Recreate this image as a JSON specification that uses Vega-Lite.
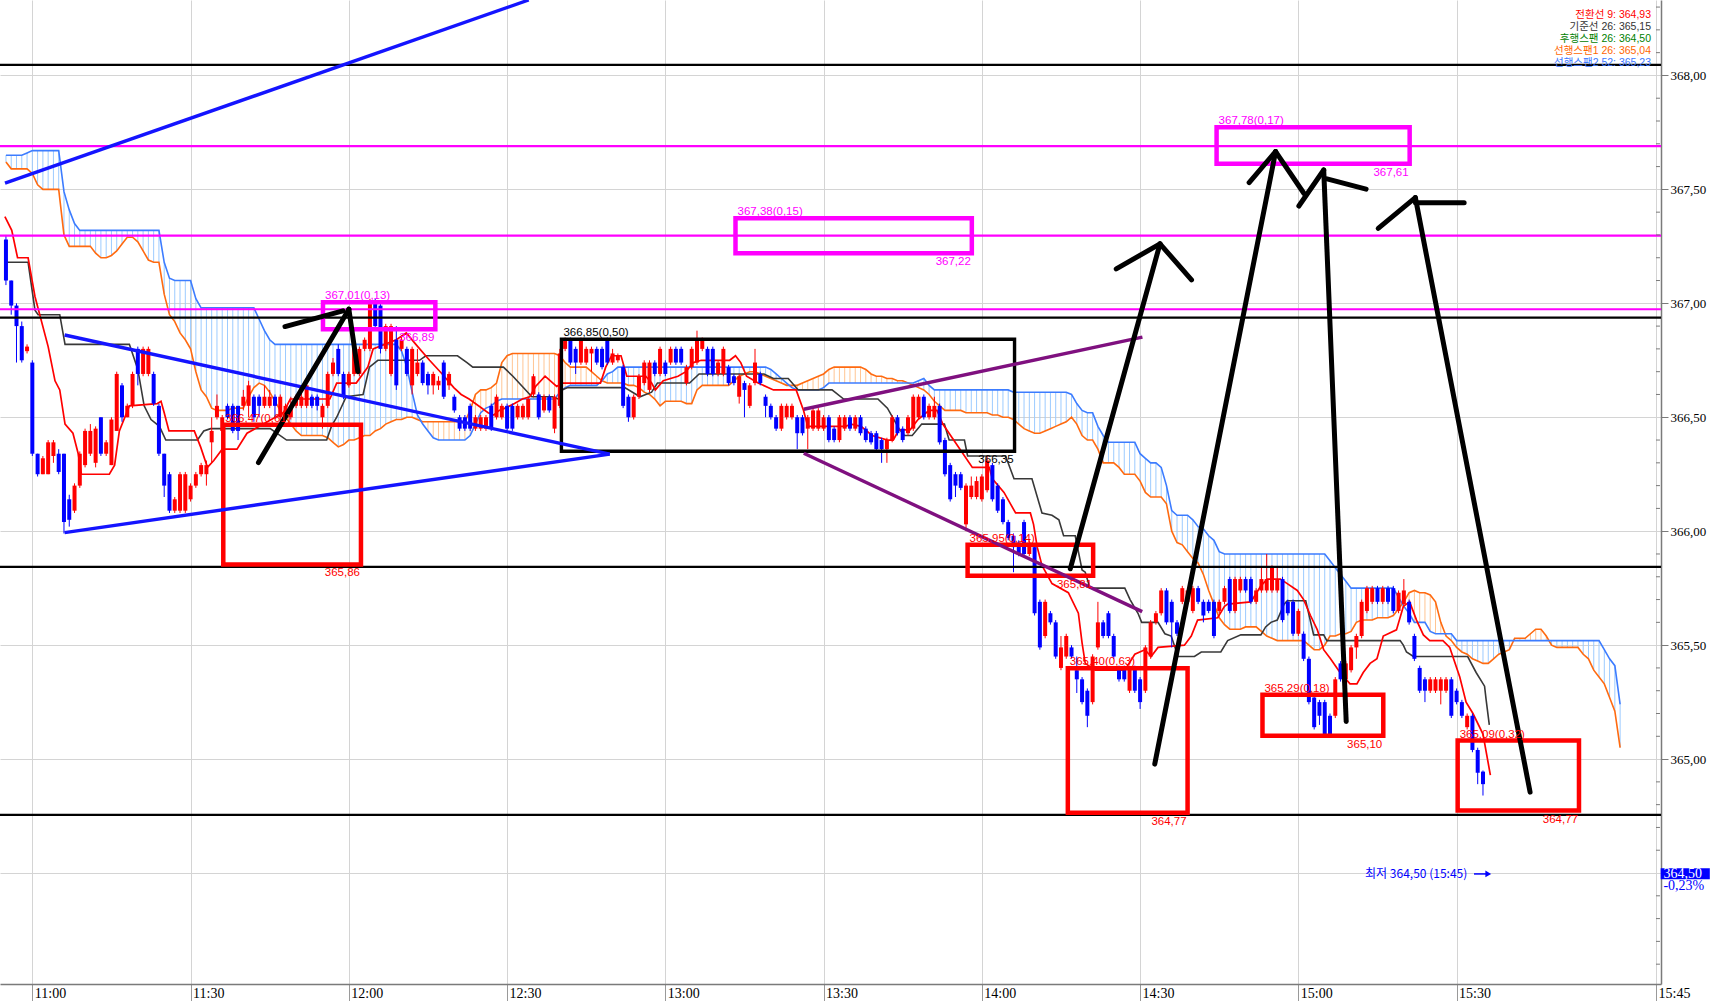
{
"$schema":"https://vega.github.io/schema/vega-lite/v6.json",
"width":1661,"height":984,
"autosize":{"type":"none"},
"padding":{"left":0,"top":0,"right":61,"bottom":17},
"background":"white",
"config":{"view":{"stroke":null}},
"resolve":{"scale":{"color":"independent","stroke":"independent"}},
"datasets":{
"candles":[
{"t":-5,"o":367.28,"h":367.3,"l":367.08,"c":367.1},{"t":-4,"o":367.1,"h":367.1,"l":366.95,"c":366.99},{"t":-3,"o":366.99,"h":367,"l":366.74,"c":366.9},{"t":-2,"o":366.9,"h":366.92,"l":366.74,"c":366.75},{"t":-1,"o":366.79,"h":366.82,"l":366.78,"c":366.81},
{"t":0,"o":366.74,"h":366.75,"l":366.33,"c":366.34},{"t":1,"o":366.34,"h":366.34,"l":366.24,"c":366.25},{"t":2,"o":366.25,"h":366.33,"l":366.25,"c":366.32},{"t":3,"o":366.25,"h":366.4,"l":366.25,"c":366.39},{"t":4,"o":366.33,"h":366.4,"l":366.3,"c":366.39},
{"t":5,"o":366.34,"h":366.36,"l":366.25,"c":366.26},{"t":6,"o":366.34,"h":366.34,"l":365.99,"c":366.04},{"t":7,"o":366.14,"h":366.16,"l":366.02,"c":366.05},{"t":8,"o":366.09,"h":366.21,"l":366.08,"c":366.2},{"t":9,"o":366.2,"h":366.35,"l":366.19,"c":366.34},
{"t":10,"o":366.29,"h":366.45,"l":366.28,"c":366.44},{"t":11,"o":366.34,"h":366.47,"l":366.33,"c":366.44},{"t":12,"o":366.3,"h":366.46,"l":366.28,"c":366.45},{"t":13,"o":366.5,"h":366.5,"l":366.33,"c":366.34},{"t":14,"o":366.34,"h":366.4,"l":366.33,"c":366.39},
{"t":15,"o":366.29,"h":366.5,"l":366.29,"c":366.49},{"t":16,"o":366.44,"h":366.7,"l":366.44,"c":366.69},{"t":17,"o":366.64,"h":366.65,"l":366.48,"c":366.5},{"t":18,"o":366.5,"h":366.56,"l":366.5,"c":366.55},{"t":19,"o":366.55,"h":366.7,"l":366.54,"c":366.69},
{"t":20,"o":366.8,"h":366.81,"l":366.64,"c":366.69},{"t":21,"o":366.69,"h":366.81,"l":366.68,"c":366.8},{"t":22,"o":366.69,"h":366.81,"l":366.68,"c":366.8},{"t":23,"o":366.69,"h":366.7,"l":366.55,"c":366.56},{"t":24,"o":366.55,"h":366.56,"l":366.33,"c":366.34},
{"t":25,"o":366.34,"h":366.34,"l":366.15,"c":366.2},{"t":26,"o":366.25,"h":366.26,"l":366.08,"c":366.09},{"t":27,"o":366.09,"h":366.15,"l":366.08,"c":366.14},{"t":28,"o":366.09,"h":366.26,"l":366.08,"c":366.25},{"t":29,"o":366.09,"h":366.26,"l":366.08,"c":366.25},
{"t":30,"o":366.14,"h":366.21,"l":366.13,"c":366.2},{"t":31,"o":366.2,"h":366.26,"l":366.19,"c":366.25},{"t":32,"o":366.25,"h":366.3,"l":366.24,"c":366.29},{"t":33,"o":366.25,"h":366.31,"l":366.2,"c":366.29},{"t":34,"o":366.39,"h":366.5,"l":366.3,"c":366.44},
{"t":35,"o":366.5,"h":366.6,"l":366.49,"c":366.55},{"t":36,"o":366.44,"h":366.51,"l":366.43,"c":366.5},{"t":37,"o":366.55,"h":366.56,"l":366.49,"c":366.5},{"t":38,"o":366.55,"h":366.56,"l":366.43,"c":366.44},{"t":39,"o":366.55,"h":366.55,"l":366.4,"c":366.44},
{"t":40,"o":366.55,"h":366.62,"l":366.53,"c":366.59},{"t":41,"o":366.55,"h":366.66,"l":366.5,"c":366.64},{"t":42,"o":366.59,"h":366.6,"l":366.48,"c":366.5},{"t":43,"o":366.59,"h":366.6,"l":366.5,"c":366.55},{"t":44,"o":366.55,"h":366.64,"l":366.54,"c":366.59},
{"t":45,"o":366.55,"h":366.62,"l":366.54,"c":366.59},{"t":46,"o":366.59,"h":366.6,"l":366.5,"c":366.55},{"t":47,"o":366.5,"h":366.6,"l":366.45,"c":366.59},{"t":48,"o":366.5,"h":366.56,"l":366.49,"c":366.55},{"t":49,"o":366.5,"h":366.59,"l":366.49,"c":366.55},
{"t":50,"o":366.55,"h":366.6,"l":366.54,"c":366.59},{"t":51,"o":366.55,"h":366.62,"l":366.54,"c":366.59},{"t":52,"o":366.55,"h":366.65,"l":366.54,"c":366.64},{"t":53,"o":366.59,"h":366.6,"l":366.54,"c":366.55},{"t":54,"o":366.59,"h":366.6,"l":366.53,"c":366.55},
{"t":55,"o":366.5,"h":366.56,"l":366.45,"c":366.55},{"t":56,"o":366.55,"h":366.7,"l":366.54,"c":366.69},{"t":57,"o":366.69,"h":366.76,"l":366.68,"c":366.74},{"t":58,"o":366.8,"h":366.82,"l":366.68,"c":366.69},{"t":59,"o":366.69,"h":366.7,"l":366.58,"c":366.59},
{"t":60,"o":366.64,"h":366.7,"l":366.63,"c":366.69},{"t":61,"o":366.69,"h":366.81,"l":366.68,"c":366.8},{"t":62,"o":366.69,"h":366.81,"l":366.68,"c":366.8},{"t":63,"o":366.8,"h":366.85,"l":366.79,"c":366.84},{"t":64,"o":366.8,"h":367.02,"l":366.79,"c":367.01},
{"t":65,"o":367.01,"h":367.02,"l":366.88,"c":366.9},{"t":66,"o":366.99,"h":367.01,"l":366.78,"c":366.8},{"t":67,"o":366.8,"h":366.91,"l":366.79,"c":366.9},{"t":68,"o":366.69,"h":366.91,"l":366.68,"c":366.9},{"t":69,"o":366.84,"h":366.9,"l":366.62,"c":366.64},
{"t":70,"o":366.8,"h":366.86,"l":366.79,"c":366.84},{"t":71,"o":366.8,"h":366.81,"l":366.68,"c":366.69},{"t":72,"o":366.64,"h":366.81,"l":366.6,"c":366.8},{"t":73,"o":366.69,"h":366.8,"l":366.68,"c":366.74},{"t":74,"o":366.74,"h":366.75,"l":366.64,"c":366.65},
{"t":75,"o":366.69,"h":366.7,"l":366.6,"c":366.64},{"t":76,"o":366.64,"h":366.7,"l":366.6,"c":366.69},{"t":77,"o":366.64,"h":366.68,"l":366.62,"c":366.66},{"t":78,"o":366.74,"h":366.75,"l":366.58,"c":366.59},{"t":79,"o":366.64,"h":366.7,"l":366.62,"c":366.69},
{"t":80,"o":366.59,"h":366.6,"l":366.52,"c":366.53},{"t":81,"o":366.5,"h":366.51,"l":366.44,"c":366.45},{"t":82,"o":366.5,"h":366.51,"l":366.44,"c":366.45},{"t":83,"o":366.55,"h":366.56,"l":366.44,"c":366.45},{"t":84,"o":366.45,"h":366.51,"l":366.44,"c":366.5},
{"t":85,"o":366.45,"h":366.51,"l":366.44,"c":366.5},{"t":86,"o":366.45,"h":366.51,"l":366.44,"c":366.5},{"t":87,"o":366.55,"h":366.56,"l":366.44,"c":366.45},{"t":88,"o":366.5,"h":366.6,"l":366.49,"c":366.59},{"t":89,"o":366.5,"h":366.56,"l":366.49,"c":366.55},
{"t":90,"o":366.55,"h":366.56,"l":366.44,"c":366.45},{"t":91,"o":366.55,"h":366.56,"l":366.44,"c":366.45},{"t":92,"o":366.5,"h":366.56,"l":366.49,"c":366.55},{"t":93,"o":366.5,"h":366.56,"l":366.49,"c":366.55},{"t":94,"o":366.5,"h":366.59,"l":366.49,"c":366.58},
{"t":95,"o":366.6,"h":366.69,"l":366.59,"c":366.68},{"t":96,"o":366.6,"h":366.61,"l":366.49,"c":366.5},{"t":97,"o":366.53,"h":366.6,"l":366.52,"c":366.59},{"t":98,"o":366.59,"h":366.6,"l":366.52,"c":366.53},{"t":99,"o":366.45,"h":366.6,"l":366.43,"c":366.59},
{"t":100,"o":366.55,"h":366.8,"l":366.54,"c":366.78},{"t":101,"o":366.8,"h":366.85,"l":366.79,"c":366.84},{"t":102,"o":366.84,"h":366.85,"l":366.73,"c":366.74},{"t":103,"o":366.8,"h":366.81,"l":366.69,"c":366.74},{"t":104,"o":366.74,"h":366.85,"l":366.73,"c":366.84},
{"t":105,"o":366.74,"h":366.81,"l":366.73,"c":366.8},{"t":106,"o":366.78,"h":366.81,"l":366.7,"c":366.8},{"t":107,"o":366.8,"h":366.81,"l":366.73,"c":366.74},{"t":108,"o":366.8,"h":366.81,"l":366.71,"c":366.72},{"t":109,"o":366.84,"h":366.85,"l":366.73,"c":366.74},
{"t":110,"o":366.74,"h":366.8,"l":366.73,"c":366.78},{"t":111,"o":366.75,"h":366.78,"l":366.74,"c":366.77},{"t":112,"o":366.72,"h":366.73,"l":366.54,"c":366.55},{"t":113,"o":366.59,"h":366.6,"l":366.48,"c":366.5},{"t":114,"o":366.5,"h":366.6,"l":366.49,"c":366.59},
{"t":115,"o":366.59,"h":366.69,"l":366.58,"c":366.68},{"t":116,"o":366.65,"h":366.75,"l":366.64,"c":366.74},{"t":117,"o":366.62,"h":366.75,"l":366.61,"c":366.74},{"t":118,"o":366.74,"h":366.75,"l":366.68,"c":366.69},{"t":119,"o":366.69,"h":366.81,"l":366.68,"c":366.8},
{"t":120,"o":366.74,"h":366.75,"l":366.68,"c":366.69},{"t":121,"o":366.74,"h":366.81,"l":366.73,"c":366.8},{"t":122,"o":366.8,"h":366.81,"l":366.73,"c":366.74},{"t":123,"o":366.8,"h":366.81,"l":366.73,"c":366.74},{"t":124,"o":366.65,"h":366.73,"l":366.64,"c":366.72},
{"t":125,"o":366.72,"h":366.81,"l":366.71,"c":366.8},{"t":126,"o":366.74,"h":366.88,"l":366.73,"c":366.84},{"t":127,"o":366.8,"h":366.85,"l":366.79,"c":366.84},{"t":128,"o":366.8,"h":366.81,"l":366.68,"c":366.69},{"t":129,"o":366.8,"h":366.81,"l":366.68,"c":366.69},
{"t":130,"o":366.69,"h":366.75,"l":366.68,"c":366.74},{"t":131,"o":366.69,"h":366.81,"l":366.68,"c":366.8},{"t":132,"o":366.72,"h":366.73,"l":366.64,"c":366.65},{"t":133,"o":366.68,"h":366.69,"l":366.64,"c":366.65},{"t":134,"o":366.59,"h":366.69,"l":366.56,"c":366.68},
{"t":135,"o":366.65,"h":366.66,"l":366.5,"c":366.62},{"t":136,"o":366.55,"h":366.65,"l":366.54,"c":366.64},{"t":137,"o":366.65,"h":366.8,"l":366.64,"c":366.74},{"t":138,"o":366.69,"h":366.7,"l":366.64,"c":366.65},{"t":139,"o":366.59,"h":366.6,"l":366.5,"c":366.55},
{"t":140,"o":366.55,"h":366.56,"l":366.49,"c":366.5},{"t":141,"o":366.5,"h":366.51,"l":366.44,"c":366.45},{"t":142,"o":366.45,"h":366.56,"l":366.44,"c":366.55},{"t":143,"o":366.5,"h":366.56,"l":366.49,"c":366.55},{"t":144,"o":366.5,"h":366.56,"l":366.49,"c":366.55},
{"t":145,"o":366.5,"h":366.51,"l":366.36,"c":366.43},{"t":146,"o":366.5,"h":366.51,"l":366.42,"c":366.43},{"t":147,"o":366.45,"h":366.51,"l":366.36,"c":366.5},{"t":148,"o":366.45,"h":366.54,"l":366.44,"c":366.53},{"t":149,"o":366.45,"h":366.54,"l":366.44,"c":366.53},
{"t":150,"o":366.45,"h":366.51,"l":366.44,"c":366.5},{"t":151,"o":366.5,"h":366.51,"l":366.39,"c":366.4},{"t":152,"o":366.45,"h":366.46,"l":366.39,"c":366.4},{"t":153,"o":366.4,"h":366.51,"l":366.39,"c":366.5},{"t":154,"o":366.45,"h":366.51,"l":366.44,"c":366.5},
{"t":155,"o":366.5,"h":366.51,"l":366.44,"c":366.45},{"t":156,"o":366.45,"h":366.51,"l":366.44,"c":366.5},{"t":157,"o":366.5,"h":366.51,"l":366.42,"c":366.43},{"t":158,"o":366.45,"h":366.46,"l":366.39,"c":366.4},{"t":159,"o":366.43,"h":366.44,"l":366.38,"c":366.39},
{"t":160,"o":366.43,"h":366.44,"l":366.35,"c":366.36},{"t":161,"o":366.4,"h":366.41,"l":366.3,"c":366.36},{"t":162,"o":366.36,"h":366.41,"l":366.3,"c":366.4},{"t":163,"o":366.4,"h":366.51,"l":366.39,"c":366.5},{"t":164,"o":366.5,"h":366.51,"l":366.42,"c":366.43},
{"t":165,"o":366.45,"h":366.46,"l":366.39,"c":366.4},{"t":166,"o":366.43,"h":366.51,"l":366.42,"c":366.5},{"t":167,"o":366.45,"h":366.6,"l":366.44,"c":366.59},{"t":168,"o":366.5,"h":366.6,"l":366.49,"c":366.59},{"t":169,"o":366.59,"h":366.6,"l":366.49,"c":366.5},
{"t":170,"o":366.5,"h":366.56,"l":366.49,"c":366.55},{"t":171,"o":366.5,"h":366.59,"l":366.49,"c":366.55},{"t":172,"o":366.55,"h":366.56,"l":366.38,"c":366.39},{"t":173,"o":366.4,"h":366.41,"l":366.24,"c":366.25},{"t":174,"o":366.29,"h":366.3,"l":366.13,"c":366.14},
{"t":175,"o":366.25,"h":366.26,"l":366.15,"c":366.2},{"t":176,"o":366.25,"h":366.26,"l":366.18,"c":366.19},{"t":177,"o":366.03,"h":366.21,"l":366,"c":366.2},{"t":178,"o":366.15,"h":366.24,"l":366.14,"c":366.2},{"t":179,"o":366.15,"h":366.24,"l":366.14,"c":366.22},
{"t":180,"o":366.14,"h":366.25,"l":366.13,"c":366.24},{"t":181,"o":366.18,"h":366.33,"l":366.17,"c":366.31},{"t":182,"o":366.29,"h":366.3,"l":366.13,"c":366.14},{"t":183,"o":366.2,"h":366.21,"l":366.08,"c":366.09},{"t":184,"o":366.14,"h":366.15,"l":366.03,"c":366.04},
{"t":185,"o":366.04,"h":366.05,"l":365.96,"c":365.97},{"t":186,"o":365.98,"h":365.99,"l":365.82,"c":365.93},{"t":187,"o":365.95,"h":365.96,"l":365.89,"c":365.9},{"t":188,"o":366.04,"h":366.05,"l":365.89,"c":365.9},{"t":189,"o":365.9,"h":365.96,"l":365.89,"c":365.95},
{"t":190,"o":365.93,"h":365.94,"l":365.63,"c":365.64},{"t":191,"o":365.69,"h":365.7,"l":365.48,"c":365.49},{"t":192,"o":365.54,"h":365.7,"l":365.53,"c":365.69},{"t":193,"o":365.64,"h":365.65,"l":365.59,"c":365.6},{"t":194,"o":365.6,"h":365.61,"l":365.44,"c":365.45},
{"t":195,"o":365.4,"h":365.54,"l":365.39,"c":365.49},{"t":196,"o":365.45,"h":365.55,"l":365.44,"c":365.54},{"t":197,"o":365.49,"h":365.5,"l":365.44,"c":365.45},{"t":198,"o":365.39,"h":365.45,"l":365.29,"c":365.35},{"t":199,"o":365.35,"h":365.36,"l":365.24,"c":365.25},
{"t":200,"o":365.3,"h":365.31,"l":365.14,"c":365.19},{"t":201,"o":365.25,"h":365.46,"l":365.24,"c":365.45},{"t":202,"o":365.49,"h":365.69,"l":365.48,"c":365.6},{"t":203,"o":365.6,"h":365.61,"l":365.53,"c":365.54},{"t":204,"o":365.64,"h":365.65,"l":365.53,"c":365.54},
{"t":205,"o":365.54,"h":365.55,"l":365.44,"c":365.45},{"t":206,"o":365.4,"h":365.41,"l":365.34,"c":365.35},{"t":207,"o":365.4,"h":365.41,"l":365.34,"c":365.35},{"t":208,"o":365.3,"h":365.41,"l":365.29,"c":365.4},{"t":209,"o":365.4,"h":365.41,"l":365.29,"c":365.3},
{"t":210,"o":365.35,"h":365.36,"l":365.22,"c":365.25},{"t":211,"o":365.3,"h":365.5,"l":365.29,"c":365.49},{"t":212,"o":365.45,"h":365.61,"l":365.44,"c":365.6},{"t":213,"o":365.6,"h":365.65,"l":365.59,"c":365.64},{"t":214,"o":365.64,"h":365.75,"l":365.63,"c":365.74},
{"t":215,"o":365.74,"h":365.75,"l":365.59,"c":365.6},{"t":216,"o":365.69,"h":365.7,"l":365.49,"c":365.6},{"t":217,"o":365.6,"h":365.61,"l":365.54,"c":365.55},{"t":218,"o":365.69,"h":365.76,"l":365.68,"c":365.75},{"t":219,"o":365.69,"h":365.75,"l":365.68,"c":365.74},
{"t":220,"o":365.65,"h":365.76,"l":365.64,"c":365.75},{"t":221,"o":365.75,"h":365.76,"l":365.68,"c":365.69},{"t":222,"o":365.69,"h":365.7,"l":365.6,"c":365.63},{"t":223,"o":365.69,"h":365.7,"l":365.64,"c":365.65},{"t":224,"o":365.69,"h":365.7,"l":365.53,"c":365.54},
{"t":225,"o":365.65,"h":365.7,"l":365.64,"c":365.69},{"t":226,"o":365.69,"h":365.76,"l":365.68,"c":365.75},{"t":227,"o":365.79,"h":365.8,"l":365.64,"c":365.65},{"t":228,"o":365.65,"h":365.8,"l":365.64,"c":365.79},{"t":229,"o":365.74,"h":365.8,"l":365.73,"c":365.79},
{"t":230,"o":365.79,"h":365.8,"l":365.73,"c":365.74},{"t":231,"o":365.79,"h":365.8,"l":365.68,"c":365.69},{"t":232,"o":365.69,"h":365.75,"l":365.68,"c":365.74},{"t":233,"o":365.74,"h":365.84,"l":365.73,"c":365.79},{"t":234,"o":365.74,"h":365.9,"l":365.73,"c":365.79},
{"t":235,"o":365.74,"h":365.85,"l":365.73,"c":365.84},{"t":236,"o":365.74,"h":365.84,"l":365.73,"c":365.79},{"t":237,"o":365.79,"h":365.8,"l":365.6,"c":365.61},{"t":238,"o":365.69,"h":365.7,"l":365.63,"c":365.64},{"t":239,"o":365.69,"h":365.7,"l":365.54,"c":365.55},
{"t":240,"o":365.55,"h":365.66,"l":365.54,"c":365.65},{"t":241,"o":365.55,"h":365.56,"l":365.43,"c":365.44},{"t":242,"o":365.44,"h":365.45,"l":365.24,"c":365.25},{"t":243,"o":365.27,"h":365.28,"l":365.13,"c":365.14},{"t":244,"o":365.25,"h":365.26,"l":365.15,"c":365.19},
{"t":245,"o":365.25,"h":365.26,"l":365.1,"c":365.11},{"t":246,"o":365.19,"h":365.2,"l":365.1,"c":365.11},{"t":247,"o":365.19,"h":365.36,"l":365.18,"c":365.35},{"t":248,"o":365.42,"h":365.43,"l":365.34,"c":365.35},{"t":249,"o":365.35,"h":365.43,"l":365.34,"c":365.42},
{"t":250,"o":365.39,"h":365.5,"l":365.38,"c":365.49},{"t":251,"o":365.49,"h":365.55,"l":365.44,"c":365.54},{"t":252,"o":365.54,"h":365.7,"l":365.53,"c":365.69},{"t":253,"o":365.65,"h":365.76,"l":365.64,"c":365.75},{"t":254,"o":365.69,"h":365.76,"l":365.68,"c":365.75},
{"t":255,"o":365.75,"h":365.76,"l":365.68,"c":365.69},{"t":256,"o":365.69,"h":365.76,"l":365.68,"c":365.75},{"t":257,"o":365.75,"h":365.76,"l":365.68,"c":365.69},{"t":258,"o":365.75,"h":365.76,"l":365.64,"c":365.65},{"t":259,"o":365.65,"h":365.74,"l":365.64,"c":365.73},
{"t":260,"o":365.68,"h":365.79,"l":365.67,"c":365.74},{"t":261,"o":365.69,"h":365.7,"l":365.59,"c":365.6},{"t":262,"o":365.54,"h":365.55,"l":365.43,"c":365.44},{"t":263,"o":365.4,"h":365.41,"l":365.29,"c":365.3},{"t":264,"o":365.35,"h":365.36,"l":365.25,"c":365.3},
{"t":265,"o":365.3,"h":365.36,"l":365.29,"c":365.35},{"t":266,"o":365.3,"h":365.36,"l":365.29,"c":365.35},{"t":267,"o":365.3,"h":365.36,"l":365.24,"c":365.35},{"t":268,"o":365.3,"h":365.36,"l":365.29,"c":365.35},{"t":269,"o":365.35,"h":365.36,"l":365.18,"c":365.19},
{"t":270,"o":365.3,"h":365.31,"l":365.24,"c":365.25},{"t":271,"o":365.25,"h":365.26,"l":365.18,"c":365.19},{"t":272,"o":365.14,"h":365.2,"l":365.13,"c":365.19},{"t":273,"o":365.19,"h":365.2,"l":365.03,"c":365.04},{"t":274,"o":365.04,"h":365.05,"l":364.89,"c":364.94},
{"t":275,"o":364.945,"h":364.95,"l":364.84,"c":364.89}
],
"cloud":[
{"t":-5,"a":367.62,"b":367.65},{"t":-4,"a":367.59,"b":367.65},{"t":-3,"a":367.59,"b":367.65},{"t":-2,"a":367.59,"b":367.65},{"t":-1,"a":367.59,"b":367.66},
{"t":0,"a":367.57,"b":367.67},{"t":1,"a":367.52,"b":367.67},{"t":2,"a":367.5,"b":367.67},{"t":3,"a":367.5,"b":367.67},{"t":4,"a":367.5,"b":367.67},
{"t":5,"a":367.5,"b":367.67},{"t":6,"a":367.3,"b":367.49},{"t":7,"a":367.25,"b":367.41},{"t":8,"a":367.25,"b":367.35},{"t":9,"a":367.25,"b":367.32},
{"t":10,"a":367.25,"b":367.32},{"t":11,"a":367.25,"b":367.32},{"t":12,"a":367.22,"b":367.32},{"t":13,"a":367.2,"b":367.32},{"t":14,"a":367.2,"b":367.32},
{"t":15,"a":367.21,"b":367.32},{"t":16,"a":367.23,"b":367.32},{"t":17,"a":367.26,"b":367.32},{"t":18,"a":367.29,"b":367.32},{"t":19,"a":367.29,"b":367.32},
{"t":20,"a":367.27,"b":367.32},{"t":21,"a":367.23,"b":367.32},{"t":22,"a":367.19,"b":367.32},{"t":23,"a":367.18,"b":367.32},{"t":24,"a":367.18,"b":367.32},
{"t":25,"a":367.04,"b":367.18},{"t":26,"a":366.95,"b":367.11},{"t":27,"a":366.92,"b":367.1},{"t":28,"a":366.87,"b":367.1},{"t":29,"a":366.84,"b":367.1},
{"t":30,"a":366.8,"b":367.1},{"t":31,"a":366.7,"b":367.02},{"t":32,"a":366.62,"b":366.98},{"t":33,"a":366.59,"b":366.98},{"t":34,"a":366.54,"b":366.98},
{"t":35,"a":366.53,"b":366.98},{"t":36,"a":366.53,"b":366.98},{"t":37,"a":366.53,"b":366.98},{"t":38,"a":366.54,"b":366.98},{"t":39,"a":366.54,"b":366.98},
{"t":40,"a":366.54,"b":366.98},{"t":41,"a":366.59,"b":366.98},{"t":42,"a":366.63,"b":366.98},{"t":43,"a":366.65,"b":366.93},{"t":44,"a":366.64,"b":366.88},
{"t":45,"a":366.61,"b":366.84},{"t":46,"a":366.57,"b":366.82},{"t":47,"a":366.53,"b":366.82},{"t":48,"a":366.5,"b":366.82},{"t":49,"a":366.47,"b":366.82},
{"t":50,"a":366.44,"b":366.82},{"t":51,"a":366.42,"b":366.82},{"t":52,"a":366.42,"b":366.82},{"t":53,"a":366.42,"b":366.82},{"t":54,"a":366.42,"b":366.82},
{"t":55,"a":366.42,"b":366.82},{"t":56,"a":366.41,"b":366.82},{"t":57,"a":366.39,"b":366.82},{"t":58,"a":366.37,"b":366.82},{"t":59,"a":366.38,"b":366.82},
{"t":60,"a":366.4,"b":366.82},{"t":61,"a":366.4,"b":366.82},{"t":62,"a":366.41,"b":366.82},{"t":63,"a":366.42,"b":366.82},{"t":64,"a":366.42,"b":366.82},
{"t":65,"a":366.44,"b":366.82},{"t":66,"a":366.45,"b":366.82},{"t":67,"a":366.47,"b":366.82},{"t":68,"a":366.48,"b":366.82},{"t":69,"a":366.49,"b":366.82},
{"t":70,"a":366.49,"b":366.79},{"t":71,"a":366.5,"b":366.72},{"t":72,"a":366.5,"b":366.61},{"t":73,"a":366.49,"b":366.51},{"t":74,"a":366.48,"b":366.47},
{"t":75,"a":366.48,"b":366.44},{"t":76,"a":366.48,"b":366.41},{"t":77,"a":366.48,"b":366.4},{"t":78,"a":366.48,"b":366.4},{"t":79,"a":366.48,"b":366.4},
{"t":80,"a":366.48,"b":366.4},{"t":81,"a":366.48,"b":366.4},{"t":82,"a":366.48,"b":366.4},{"t":83,"a":366.53,"b":366.42},{"t":84,"a":366.6,"b":366.47},
{"t":85,"a":366.62,"b":366.52},{"t":86,"a":366.62,"b":366.54},{"t":87,"a":366.63,"b":366.55},{"t":88,"a":366.65,"b":366.57},{"t":89,"a":366.74,"b":366.58},
{"t":90,"a":366.77,"b":366.58},{"t":91,"a":366.78,"b":366.58},{"t":92,"a":366.78,"b":366.58},{"t":93,"a":366.78,"b":366.58},{"t":94,"a":366.78,"b":366.58},
{"t":95,"a":366.78,"b":366.58},{"t":96,"a":366.78,"b":366.58},{"t":97,"a":366.78,"b":366.58},{"t":98,"a":366.78,"b":366.58},{"t":99,"a":366.78,"b":366.58},
{"t":100,"a":366.77,"b":366.61},{"t":101,"a":366.74,"b":366.63},{"t":102,"a":366.72,"b":366.64},{"t":103,"a":366.72,"b":366.64},{"t":104,"a":366.72,"b":366.64},
{"t":105,"a":366.72,"b":366.64},{"t":106,"a":366.7,"b":366.64},{"t":107,"a":366.68,"b":366.64},{"t":108,"a":366.66,"b":366.66},{"t":109,"a":366.65,"b":366.69},
{"t":110,"a":366.65,"b":366.7},{"t":111,"a":366.65,"b":366.72},{"t":112,"a":366.65,"b":366.72},{"t":113,"a":366.64,"b":366.72},{"t":114,"a":366.64,"b":366.72},
{"t":115,"a":366.63,"b":366.72},{"t":116,"a":366.61,"b":366.72},{"t":117,"a":366.6,"b":366.72},{"t":118,"a":366.58,"b":366.72},{"t":119,"a":366.55,"b":366.72},
{"t":120,"a":366.57,"b":366.72},{"t":121,"a":366.57,"b":366.72},{"t":122,"a":366.57,"b":366.72},{"t":123,"a":366.57,"b":366.72},{"t":124,"a":366.56,"b":366.72},
{"t":125,"a":366.56,"b":366.72},{"t":126,"a":366.62,"b":366.72},{"t":127,"a":366.64,"b":366.72},{"t":128,"a":366.64,"b":366.72},{"t":129,"a":366.64,"b":366.72},
{"t":130,"a":366.64,"b":366.72},{"t":131,"a":366.64,"b":366.72},{"t":132,"a":366.64,"b":366.72},{"t":133,"a":366.66,"b":366.72},{"t":134,"a":366.68,"b":366.72},
{"t":135,"a":366.69,"b":366.72},{"t":136,"a":366.7,"b":366.72},{"t":137,"a":366.7,"b":366.72},{"t":138,"a":366.69,"b":366.72},{"t":139,"a":366.68,"b":366.72},
{"t":140,"a":366.67,"b":366.71},{"t":141,"a":366.66,"b":366.69},{"t":142,"a":366.65,"b":366.67},{"t":143,"a":366.64,"b":366.65},{"t":144,"a":366.64,"b":366.63},
{"t":145,"a":366.64,"b":366.62},{"t":146,"a":366.65,"b":366.62},{"t":147,"a":366.66,"b":366.62},{"t":148,"a":366.67,"b":366.62},{"t":149,"a":366.68,"b":366.62},
{"t":150,"a":366.69,"b":366.63},{"t":151,"a":366.71,"b":366.65},{"t":152,"a":366.72,"b":366.65},{"t":153,"a":366.72,"b":366.65},{"t":154,"a":366.72,"b":366.65},
{"t":155,"a":366.72,"b":366.65},{"t":156,"a":366.72,"b":366.65},{"t":157,"a":366.72,"b":366.65},{"t":158,"a":366.71,"b":366.65},{"t":159,"a":366.69,"b":366.65},
{"t":160,"a":366.68,"b":366.65},{"t":161,"a":366.68,"b":366.65},{"t":162,"a":366.67,"b":366.65},{"t":163,"a":366.67,"b":366.65},{"t":164,"a":366.66,"b":366.65},
{"t":165,"a":366.66,"b":366.65},{"t":166,"a":366.65,"b":366.65},{"t":167,"a":366.64,"b":366.65},{"t":168,"a":366.63,"b":366.66},{"t":169,"a":366.62,"b":366.67},
{"t":170,"a":366.6,"b":366.64},{"t":171,"a":366.57,"b":366.62},{"t":172,"a":366.55,"b":366.62},{"t":173,"a":366.53,"b":366.62},{"t":174,"a":366.53,"b":366.62},
{"t":175,"a":366.53,"b":366.62},{"t":176,"a":366.53,"b":366.62},{"t":177,"a":366.52,"b":366.62},{"t":178,"a":366.52,"b":366.62},{"t":179,"a":366.52,"b":366.62},
{"t":180,"a":366.52,"b":366.62},{"t":181,"a":366.52,"b":366.62},{"t":182,"a":366.51,"b":366.62},{"t":183,"a":366.51,"b":366.62},{"t":184,"a":366.5,"b":366.62},
{"t":185,"a":366.5,"b":366.62},{"t":186,"a":366.49,"b":366.61},{"t":187,"a":366.47,"b":366.61},{"t":188,"a":366.45,"b":366.61},{"t":189,"a":366.44,"b":366.61},
{"t":190,"a":366.43,"b":366.61},{"t":191,"a":366.43,"b":366.61},{"t":192,"a":366.44,"b":366.61},{"t":193,"a":366.45,"b":366.61},{"t":194,"a":366.46,"b":366.61},
{"t":195,"a":366.47,"b":366.61},{"t":196,"a":366.48,"b":366.61},{"t":197,"a":366.5,"b":366.6},{"t":198,"a":366.47,"b":366.56},{"t":199,"a":366.42,"b":366.53},
{"t":200,"a":366.4,"b":366.52},{"t":201,"a":366.4,"b":366.52},{"t":202,"a":366.36,"b":366.46},{"t":203,"a":366.3,"b":366.42},{"t":204,"a":366.3,"b":366.39},
{"t":205,"a":366.3,"b":366.39},{"t":206,"a":366.28,"b":366.39},{"t":207,"a":366.25,"b":366.39},{"t":208,"a":366.25,"b":366.39},{"t":209,"a":366.25,"b":366.39},
{"t":210,"a":366.22,"b":366.34},{"t":211,"a":366.17,"b":366.32},{"t":212,"a":366.15,"b":366.3},{"t":213,"a":366.15,"b":366.3},{"t":214,"a":366.15,"b":366.28},
{"t":215,"a":366.12,"b":366.2},{"t":216,"a":366,"b":366.09},{"t":217,"a":365.95,"b":366.07},{"t":218,"a":365.94,"b":366.07},{"t":219,"a":365.91,"b":366.07},
{"t":220,"a":365.88,"b":366.05},{"t":221,"a":365.86,"b":366.02},{"t":222,"a":365.81,"b":366.01},{"t":223,"a":365.74,"b":365.98},{"t":224,"a":365.68,"b":365.96},
{"t":225,"a":365.62,"b":365.91},{"t":226,"a":365.59,"b":365.9},{"t":227,"a":365.57,"b":365.9},{"t":228,"a":365.57,"b":365.9},{"t":229,"a":365.57,"b":365.9},
{"t":230,"a":365.58,"b":365.9},{"t":231,"a":365.58,"b":365.9},{"t":232,"a":365.58,"b":365.9},{"t":233,"a":365.56,"b":365.9},{"t":234,"a":365.54,"b":365.9},
{"t":235,"a":365.53,"b":365.9},{"t":236,"a":365.52,"b":365.9},{"t":237,"a":365.52,"b":365.9},{"t":238,"a":365.52,"b":365.9},{"t":239,"a":365.52,"b":365.9},
{"t":240,"a":365.52,"b":365.9},{"t":241,"a":365.52,"b":365.9},{"t":242,"a":365.5,"b":365.9},{"t":243,"a":365.48,"b":365.9},{"t":244,"a":365.48,"b":365.9},
{"t":245,"a":365.5,"b":365.9},{"t":246,"a":365.54,"b":365.87},{"t":247,"a":365.54,"b":365.84},{"t":248,"a":365.55,"b":365.81},{"t":249,"a":365.55,"b":365.78},
{"t":250,"a":365.56,"b":365.75},{"t":251,"a":365.6,"b":365.75},{"t":252,"a":365.61,"b":365.75},{"t":253,"a":365.61,"b":365.75},{"t":254,"a":365.61,"b":365.75},
{"t":255,"a":365.62,"b":365.75},{"t":256,"a":365.62,"b":365.75},{"t":257,"a":365.62,"b":365.75},{"t":258,"a":365.63,"b":365.75},{"t":259,"a":365.66,"b":365.71},
{"t":260,"a":365.69,"b":365.67},{"t":261,"a":365.73,"b":365.64},{"t":262,"a":365.74,"b":365.6},{"t":263,"a":365.73,"b":365.6},{"t":264,"a":365.73,"b":365.6},
{"t":265,"a":365.72,"b":365.56},{"t":266,"a":365.69,"b":365.55},{"t":267,"a":365.6,"b":365.55},{"t":268,"a":365.54,"b":365.55},{"t":269,"a":365.52,"b":365.55},
{"t":270,"a":365.49,"b":365.52},{"t":271,"a":365.47,"b":365.52},{"t":272,"a":365.46,"b":365.52},{"t":273,"a":365.44,"b":365.52},{"t":274,"a":365.43,"b":365.52},
{"t":275,"a":365.42,"b":365.52},{"t":276,"a":365.42,"b":365.52},{"t":277,"a":365.44,"b":365.52},{"t":278,"a":365.46,"b":365.52},{"t":279,"a":365.47,"b":365.52},
{"t":280,"a":365.48,"b":365.52},{"t":281,"a":365.53,"b":365.52},{"t":282,"a":365.53,"b":365.52},{"t":283,"a":365.53,"b":365.52},{"t":284,"a":365.55,"b":365.52},
{"t":285,"a":365.57,"b":365.52},{"t":286,"a":365.57,"b":365.52},{"t":287,"a":365.54,"b":365.52},{"t":288,"a":365.5,"b":365.52},{"t":289,"a":365.49,"b":365.52},
{"t":290,"a":365.49,"b":365.52},{"t":291,"a":365.49,"b":365.52},{"t":292,"a":365.49,"b":365.52},{"t":293,"a":365.49,"b":365.52},{"t":294,"a":365.46,"b":365.52},
{"t":295,"a":365.44,"b":365.52},{"t":296,"a":365.39,"b":365.52},{"t":297,"a":365.36,"b":365.52},{"t":298,"a":365.33,"b":365.48},{"t":299,"a":365.27,"b":365.44},
{"t":300,"a":365.21,"b":365.41},{"t":301,"a":365.05,"b":365.24}
],
"lines":[
{"k":"tenkan","t":-5.2,"p":367.38},{"k":"tenkan","t":-3.9,"p":367.32},{"k":"tenkan","t":-2.8,"p":367.2},{"k":"tenkan","t":-0.8,"p":367.2},{"k":"tenkan","t":0.5,"p":367.03},{"k":"tenkan","t":3,"p":366.81},{"k":"tenkan","t":4.3,"p":366.66},{"k":"tenkan","t":5.2,"p":366.62},{"k":"tenkan","t":6.2,"p":366.47},{"k":"tenkan","t":7.7,"p":366.43},{"k":"tenkan","t":8.7,"p":366.34},{"k":"tenkan","t":9.3,"p":366.25},{"k":"tenkan","t":14.6,"p":366.25},{"k":"tenkan","t":15.6,"p":366.29},{"k":"tenkan","t":16.5,"p":366.44},{"k":"tenkan","t":18.4,"p":366.55},{"k":"tenkan","t":23.7,"p":366.56},{"k":"tenkan","t":24.4,"p":366.57},{"k":"tenkan","t":25,"p":366.52},{"k":"tenkan","t":25.9,"p":366.44},{"k":"tenkan","t":30.7,"p":366.44},{"k":"tenkan","t":31.9,"p":366.37},{"k":"tenkan","t":33.2,"p":366.28},{"k":"tenkan","t":34.4,"p":366.31},{"k":"tenkan","t":36,"p":366.36},{"k":"tenkan","t":38.8,"p":366.36},{"k":"tenkan","t":40.7,"p":366.43},{"k":"tenkan","t":43.8,"p":366.47},{"k":"tenkan","t":47.6,"p":366.52},{"k":"tenkan","t":48.9,"p":366.58},{"k":"tenkan","t":56.4,"p":366.58},{"k":"tenkan","t":57.7,"p":366.65},{"k":"tenkan","t":61.4,"p":366.65},{"k":"tenkan","t":63.6,"p":366.72},{"k":"tenkan","t":64.6,"p":366.8},{"k":"tenkan","t":69,"p":366.84},{"k":"tenkan","t":70.9,"p":366.87},{"k":"tenkan","t":72.7,"p":366.82},{"k":"tenkan","t":75.3,"p":366.75},{"k":"tenkan","t":77.7,"p":366.69},{"k":"tenkan","t":79.9,"p":366.63},{"k":"tenkan","t":81.3,"p":366.6},{"k":"tenkan","t":82.8,"p":366.58},{"k":"tenkan","t":86.4,"p":366.52},{"k":"tenkan","t":87.5,"p":366.51},{"k":"tenkan","t":88.5,"p":366.53},{"k":"tenkan","t":89.6,"p":366.54},{"k":"tenkan","t":91.4,"p":366.56},{"k":"tenkan","t":92.9,"p":366.58},{"k":"tenkan","t":94.3,"p":366.59},{"k":"tenkan","t":95.4,"p":366.635},{"k":"tenkan","t":97.2,"p":366.68},{"k":"tenkan","t":99.4,"p":366.635},{"k":"tenkan","t":100.4,"p":366.65},{"k":"tenkan","t":107.7,"p":366.65},{"k":"tenkan","t":108.7,"p":366.72},{"k":"tenkan","t":109.8,"p":366.77},{"k":"tenkan","t":111.6,"p":366.77},{"k":"tenkan","t":112.7,"p":366.68},{"k":"tenkan","t":116.3,"p":366.68},{"k":"tenkan","t":117.4,"p":366.65},{"k":"tenkan","t":118.1,"p":366.62},{"k":"tenkan","t":119.6,"p":366.66},{"k":"tenkan","t":122.4,"p":366.68},{"k":"tenkan","t":123.9,"p":366.7},{"k":"tenkan","t":125.3,"p":366.74},{"k":"tenkan","t":126.8,"p":366.75},{"k":"tenkan","t":132.2,"p":366.75},{"k":"tenkan","t":133.3,"p":366.77},{"k":"tenkan","t":134.3,"p":366.74},{"k":"tenkan","t":135.4,"p":366.68},{"k":"tenkan","t":137.6,"p":366.65},{"k":"tenkan","t":140.5,"p":366.62},{"k":"tenkan","t":144.8,"p":366.62},{"k":"tenkan","t":146.2,"p":366.53},{"k":"tenkan","t":147,"p":366.46},{"k":"tenkan","t":154.2,"p":366.46},{"k":"tenkan","t":155.2,"p":366.47},{"k":"tenkan","t":157.1,"p":366.46},{"k":"tenkan","t":159.2,"p":366.42},{"k":"tenkan","t":162.1,"p":366.4},{"k":"tenkan","t":163.2,"p":366.4},{"k":"tenkan","t":164.3,"p":366.445},{"k":"tenkan","t":166.4,"p":366.445},{"k":"tenkan","t":167.9,"p":366.49},{"k":"tenkan","t":170,"p":366.53},{"k":"tenkan","t":171.5,"p":366.53},{"k":"tenkan","t":172.6,"p":366.47},{"k":"tenkan","t":178.2,"p":366.28},{"k":"tenkan","t":181.4,"p":366.28},{"k":"tenkan","t":182,"p":366.23},{"k":"tenkan","t":184.2,"p":366.17},{"k":"tenkan","t":186.4,"p":366.08},{"k":"tenkan","t":189.2,"p":366.08},{"k":"tenkan","t":189.8,"p":366.03},{"k":"tenkan","t":190.5,"p":365.93},{"k":"tenkan","t":191.4,"p":365.85},{"k":"tenkan","t":193.3,"p":365.77},{"k":"tenkan","t":196.4,"p":365.73},{"k":"tenkan","t":198.3,"p":365.64},{"k":"tenkan","t":199,"p":365.51},{"k":"tenkan","t":199.6,"p":365.42},{"k":"tenkan","t":201.5,"p":365.39},{"k":"tenkan","t":207.1,"p":365.39},{"k":"tenkan","t":209,"p":365.46},{"k":"tenkan","t":210.9,"p":365.48},{"k":"tenkan","t":212.1,"p":365.45},{"k":"tenkan","t":213.4,"p":365.49},{"k":"tenkan","t":218.4,"p":365.5},{"k":"tenkan","t":219.7,"p":365.54},{"k":"tenkan","t":220.9,"p":365.61},{"k":"tenkan","t":224.7,"p":365.62},{"k":"tenkan","t":226,"p":365.67},{"k":"tenkan","t":226.6,"p":365.68},{"k":"tenkan","t":231,"p":365.69},{"k":"tenkan","t":232.9,"p":365.76},{"k":"tenkan","t":234.1,"p":365.79},{"k":"tenkan","t":236.6,"p":365.79},{"k":"tenkan","t":237.9,"p":365.77},{"k":"tenkan","t":239.8,"p":365.74},{"k":"tenkan","t":241,"p":365.7},{"k":"tenkan","t":242.3,"p":365.63},{"k":"tenkan","t":243.6,"p":365.567},{"k":"tenkan","t":244.8,"p":365.48},{"k":"tenkan","t":246.1,"p":365.44},{"k":"tenkan","t":247.9,"p":365.38},{"k":"tenkan","t":249.8,"p":365.33},{"k":"tenkan","t":251.1,"p":365.33},{"k":"tenkan","t":252.3,"p":365.38},{"k":"tenkan","t":253.6,"p":365.42},{"k":"tenkan","t":254.9,"p":365.44},{"k":"tenkan","t":256.1,"p":365.54},{"k":"tenkan","t":258.6,"p":365.567},{"k":"tenkan","t":259.9,"p":365.67},{"k":"tenkan","t":261.1,"p":365.69},{"k":"tenkan","t":262.4,"p":365.61},{"k":"tenkan","t":263.7,"p":365.545},{"k":"tenkan","t":264.9,"p":365.52},{"k":"tenkan","t":267.4,"p":365.52},{"k":"tenkan","t":268.7,"p":365.49},{"k":"tenkan","t":270.6,"p":365.36},{"k":"tenkan","t":271.8,"p":365.25},{"k":"tenkan","t":273.1,"p":365.2},{"k":"tenkan","t":275,"p":365.11},{"k":"tenkan","t":276.4,"p":364.93},
{"k":"kijun","t":-5.2,"p":367.18},{"k":"kijun","t":-0.8,"p":367.18},{"k":"kijun","t":0.5,"p":366.97},{"k":"kijun","t":1.1,"p":366.95},{"k":"kijun","t":5.2,"p":366.95},{"k":"kijun","t":6.2,"p":366.82},{"k":"kijun","t":18.4,"p":366.82},{"k":"kijun","t":20,"p":366.71},{"k":"kijun","t":21.2,"p":366.55},{"k":"kijun","t":22.5,"p":366.49},{"k":"kijun","t":24.1,"p":366.46},{"k":"kijun","t":25.3,"p":366.4},{"k":"kijun","t":31.3,"p":366.4},{"k":"kijun","t":32.5,"p":366.44},{"k":"kijun","t":33.8,"p":366.45},{"k":"kijun","t":45.1,"p":366.45},{"k":"kijun","t":48.2,"p":366.4},{"k":"kijun","t":55.8,"p":366.4},{"k":"kijun","t":56.7,"p":366.46},{"k":"kijun","t":57.7,"p":366.5},{"k":"kijun","t":59.5,"p":366.59},{"k":"kijun","t":62.7,"p":366.6},{"k":"kijun","t":63.9,"p":366.72},{"k":"kijun","t":65.5,"p":366.75},{"k":"kijun","t":73.4,"p":366.75},{"k":"kijun","t":74.6,"p":366.77},{"k":"kijun","t":80.6,"p":366.77},{"k":"kijun","t":82.4,"p":366.74},{"k":"kijun","t":83.5,"p":366.72},{"k":"kijun","t":89.3,"p":366.72},{"k":"kijun","t":91.1,"p":366.68},{"k":"kijun","t":92.9,"p":366.635},{"k":"kijun","t":94.7,"p":366.59},{"k":"kijun","t":98.6,"p":366.59},{"k":"kijun","t":99.7,"p":366.58},{"k":"kijun","t":100.4,"p":366.62},{"k":"kijun","t":101.5,"p":366.63},{"k":"kijun","t":112.3,"p":366.63},{"k":"kijun","t":115.2,"p":366.59},{"k":"kijun","t":117.4,"p":366.61},{"k":"kijun","t":118.5,"p":366.65},{"k":"kijun","t":124.6,"p":366.65},{"k":"kijun","t":126.4,"p":366.69},{"k":"kijun","t":138.7,"p":366.69},{"k":"kijun","t":140.5,"p":366.67},{"k":"kijun","t":143.3,"p":366.67},{"k":"kijun","t":145.2,"p":366.62},{"k":"kijun","t":151.6,"p":366.62},{"k":"kijun","t":153.8,"p":366.58},{"k":"kijun","t":160.3,"p":366.58},{"k":"kijun","t":162.1,"p":366.54},{"k":"kijun","t":164.3,"p":366.45},{"k":"kijun","t":165.3,"p":366.42},{"k":"kijun","t":166.8,"p":366.42},{"k":"kijun","t":168.6,"p":366.47},{"k":"kijun","t":172.9,"p":366.47},{"k":"kijun","t":173.8,"p":366.4},{"k":"kijun","t":176.7,"p":366.4},{"k":"kijun","t":177.3,"p":366.33},{"k":"kijun","t":184.5,"p":366.33},{"k":"kijun","t":186.1,"p":366.23},{"k":"kijun","t":189.5,"p":366.23},{"k":"kijun","t":191.4,"p":366.08},{"k":"kijun","t":193.3,"p":366.07},{"k":"kijun","t":194.6,"p":366.05},{"k":"kijun","t":195.5,"p":365.98},{"k":"kijun","t":197.7,"p":365.98},{"k":"kijun","t":199,"p":365.83},{"k":"kijun","t":199.6,"p":365.82},{"k":"kijun","t":200.5,"p":365.75},{"k":"kijun","t":207.1,"p":365.75},{"k":"kijun","t":208.1,"p":365.7},{"k":"kijun","t":209.6,"p":365.64},{"k":"kijun","t":210.3,"p":365.6},{"k":"kijun","t":213.4,"p":365.6},{"k":"kijun","t":214.7,"p":365.55},{"k":"kijun","t":215.9,"p":365.54},{"k":"kijun","t":217.2,"p":365.45},{"k":"kijun","t":220.3,"p":365.45},{"k":"kijun","t":221.6,"p":365.47},{"k":"kijun","t":225.3,"p":365.47},{"k":"kijun","t":226.6,"p":365.52},{"k":"kijun","t":229.1,"p":365.545},{"k":"kijun","t":232.9,"p":365.545},{"k":"kijun","t":233.8,"p":365.58},{"k":"kijun","t":234.8,"p":365.6},{"k":"kijun","t":236,"p":365.61},{"k":"kijun","t":237.3,"p":365.68},{"k":"kijun","t":237.9,"p":365.695},{"k":"kijun","t":241.4,"p":365.695},{"k":"kijun","t":242.9,"p":365.545},{"k":"kijun","t":244.8,"p":365.545},{"k":"kijun","t":245.4,"p":365.52},{"k":"kijun","t":259.3,"p":365.52},{"k":"kijun","t":259.9,"p":365.5},{"k":"kijun","t":260.5,"p":365.47},{"k":"kijun","t":261.8,"p":365.45},{"k":"kijun","t":272.1,"p":365.45},{"k":"kijun","t":273.7,"p":365.38},{"k":"kijun","t":275.3,"p":365.32},{"k":"kijun","t":275.6,"p":365.26},{"k":"kijun","t":276.2,"p":365.15}
],
"hlines":[{"p":368.046,"ln":"level"},{"p":367.69,"ln":"target"},{"p":367.297,"ln":"target"},{"p":366.974,"ln":"target"},{"p":366.937,"ln":"level"},{"p":365.843,"ln":"level"},{"p":364.755,"ln":"level"}],
"boxes":[
{"zone":"low","t":36.2,"t2":62.3,"p":366.467,"p2":365.854},
{"zone":"low","t":177.3,"t2":201.1,"p":365.94,"p2":365.804},
{"zone":"low","t":196.3,"t2":219.0,"p":365.399,"p2":364.765},
{"zone":"low","t":233.2,"t2":256.1,"p":365.282,"p2":365.102},
{"zone":"low","t":270.2,"t2":293.2,"p":365.081,"p2":364.774},
{"zone":"high","t":55.1,"t2":76.4,"p":367.005,"p2":366.886},
{"zone":"high","t":133.3,"t2":178.1,"p":367.373,"p2":367.22},
{"zone":"high","t":224.5,"t2":261.1,"p":367.773,"p2":367.612},
{"zone":"range","t":100.3,"t2":186.2,"p":366.842,"p2":366.351}
],
"segs":[
{"pen":"trend","t":-5.18,"p":367.527,"t2":94.1,"p2":368.331},
{"pen":"trend","t":6.12,"p":366.861,"t2":109.46,"p2":366.338},
{"pen":"trend","t":6.12,"p":365.994,"t2":109.46,"p2":366.338},
{"pen":"channel","t":146.24,"p":366.535,"t2":210.44,"p2":366.852},
{"pen":"channel","t":146.24,"p":366.342,"t2":210.4,"p2":365.647},
{"pen":"arrow","t":42.87,"p":366.301,"t2":60.01,"p2":366.974},
{"pen":"arrow","t":47.9,"p":366.898,"t2":58.88,"p2":366.967},
{"pen":"arrow","t":60.01,"p":366.974,"t2":61.71,"p2":366.7},
{"pen":"arrow","t":196.76,"p":365.835,"t2":213.77,"p2":367.261},
{"pen":"arrow","t":205.48,"p":367.151,"t2":213.77,"p2":367.261},
{"pen":"arrow","t":213.77,"p":367.261,"t2":219.75,"p2":367.103},
{"pen":"arrow","t":212.78,"p":364.978,"t2":235.69,"p2":367.666},
{"pen":"arrow","t":230.67,"p":367.53,"t2":235.69,"p2":367.666},
{"pen":"arrow","t":235.69,"p":367.666,"t2":241.04,"p2":367.483},
{"pen":"arrow","t":240.1,"p":367.427,"t2":244.81,"p2":367.585},
{"pen":"arrow","t":244.81,"p":367.585,"t2":249.07,"p2":365.165},
{"pen":"arrow","t":245.43,"p":367.546,"t2":252.84,"p2":367.501},
{"pen":"arrow","t":255.14,"p":367.329,"t2":262.18,"p2":367.464},
{"pen":"arrow","t":262.2,"p":367.441,"t2":271.43,"p2":367.441},
{"pen":"arrow","t":262.18,"p":367.464,"t2":283.93,"p2":364.855}
],
"notes":[
{"zone":"low","pos":"a","t":36.2,"p":366.467,"label":"366,47(0,61)"},
{"zone":"low","pos":"b","t":62.3,"p":365.854,"label":"365,86"},
{"zone":"low","pos":"a","t":177.3,"p":365.94,"label":"365,95(0,14)"},
{"zone":"low","pos":"b","t":201.1,"p":365.804,"label":"365,81"},
{"zone":"low","pos":"a","t":196.3,"p":365.399,"label":"365,40(0,63)"},
{"zone":"low","pos":"b","t":219.0,"p":364.765,"label":"364,77"},
{"zone":"low","pos":"a","t":233.2,"p":365.282,"label":"365,29(0,18)"},
{"zone":"low","pos":"b","t":256.1,"p":365.102,"label":"365,10"},
{"zone":"low","pos":"a","t":270.2,"p":365.081,"label":"365,09(0,32)"},
{"zone":"low","pos":"b","t":293.2,"p":364.774,"label":"364,77"},
{"zone":"high","pos":"a","t":55.1,"p":367.005,"label":"367,01(0,13)"},
{"zone":"high","pos":"b","t":76.4,"p":366.886,"label":"366,89"},
{"zone":"high","pos":"a","t":133.3,"p":367.373,"label":"367,38(0,15)"},
{"zone":"high","pos":"b","t":178.1,"p":367.22,"label":"367,22"},
{"zone":"high","pos":"a","t":224.5,"p":367.773,"label":"367,78(0,17)"},
{"zone":"high","pos":"b","t":261.1,"p":367.612,"label":"367,61"},
{"zone":"range","pos":"a","t":100.3,"p":366.842,"label":"366,85(0,50)"},
{"zone":"range","pos":"b","t":186.2,"p":366.351,"label":"366,35"}
],
"legend":[
{"s":"tenkan","t":306.86,"p":368.267,"label":"전환선 9: 364,93"},
{"s":"kijun","t":306.86,"p":368.214,"label":"기준선 26: 365,15"},
{"s":"chikou","t":306.86,"p":368.161,"label":"후행스팬 26: 364,50"},
{"s":"span1","t":306.86,"p":368.108,"label":"선행스팬1 26: 365,04"},
{"s":"span2","t":306.86,"p":368.055,"label":"선행스팬2 52: 365,23"}
],
"minor":[{"p":364.1},{"p":364.2},{"p":364.3},{"p":364.4},{"p":364.6},{"p":364.7},{"p":364.8},{"p":364.9},{"p":365.1},{"p":365.2},{"p":365.3},{"p":365.4},{"p":365.6},{"p":365.7},{"p":365.8},{"p":365.9},{"p":366.1},{"p":366.2},{"p":366.3},{"p":366.4},{"p":366.6},{"p":366.7},{"p":366.8},{"p":366.9},{"p":367.1},{"p":367.2},{"p":367.3},{"p":367.4},{"p":367.6},{"p":367.7},{"p":367.8},{"p":367.9},{"p":368.1},{"p":368.2},{"p":368.3}],
"last":[{"t":252.65,"a1":273.3,"a2":276.0,"p":364.496,"label":"최저 364,50 (15:45)","tag":"364,50","pct":"-0,23%","bx":308.69,"bx2":318.0,"bp":364.521,"bp2":364.473,"lx":309.2,"pp":364.445}]
},
"layer":[
{"data":{"name":"cloud"},"mark":{"type":"rule","strokeWidth":1},
"encoding":{
"x":{"field":"t","type":"quantitative","scale":{"domain":[-5.18,307.8],"nice":false,"zero":false},
"axis":{"values":[0,30,60,90,120,150,180,210,240,270,307.8],"labelExpr":"datum.value > 300 ? '15:45' : (11 + floor(datum.value/60)) + ':' + (datum.value % 60 == 0 ? '00' : '30')","grid":true,"gridColor":"#d4d4d4","gridWidth":1,"tickSize":17,"tickColor":"#9a9a9a","domainColor":"#7a7a7a","domainWidth":1.5,"labelAlign":"left","labelBaseline":"top","labelPadding":-15,"labelOffset":2,"labelFont":"Liberation Sans Narrow","labelFontSize":14,"labelColor":"#000000","title":null,"labelOverlap":false,"labelFlush":false,"labelBound":false,"orient":"bottom"}},
"y":{"field":"a","type":"quantitative","scale":{"domain":[364.013,368.331],"nice":false,"zero":false},
"axis":{"orient":"right","values":[364.5,365,365.5,366,366.5,367,367.5,368],"labelExpr":"datum.value < 364.9 ? '' : replace(format(datum.value, '.2f'), '.', ',')","grid":true,"gridColor":"#d4d4d4","gridWidth":1,"tickSize":7,"tickColor":"#7a7a7a","domainColor":"#7a7a7a","domainWidth":1.5,"labelFont":"Liberation Sans Narrow","labelFontSize":13,"labelColor":"#000000","labelPadding":2,"title":null,"labelOverlap":false,"labelFlush":false}},
"y2":{"field":"b"},
"color":{"condition":{"test":"datum.a > datum.b","value":"#ffc593"},"value":"#9ccbff"}}},
{"data":{"name":"cloud"},"mark":{"type":"line","strokeWidth":1.6,"color":"#ff6a10"},
"encoding":{"x":{"field":"t","type":"quantitative","title":null},
"y":{"field":"a","type":"quantitative","title":null}}},
{"data":{"name":"cloud"},"mark":{"type":"line","strokeWidth":1.6,"color":"#3c7cff"},
"encoding":{"x":{"field":"t","type":"quantitative","title":null},
"y":{"field":"b","type":"quantitative","title":null}}},
{"data":{"name":"lines"},"transform":[{"filter":"datum.k == 'kijun'"}],"mark":{"type":"line","strokeWidth":1.6,"color":"#383838"},
"encoding":{"x":{"field":"t","type":"quantitative","title":null},
"y":{"field":"p","type":"quantitative","title":null}}},
{"data":{"name":"lines"},"transform":[{"filter":"datum.k == 'tenkan'"}],"mark":{"type":"line","strokeWidth":1.7,"color":"#ff0000"},
"encoding":{"x":{"field":"t","type":"quantitative","title":null},
"y":{"field":"p","type":"quantitative","title":null}}},
{"data":{"name":"candles"},"mark":{"type":"rule","strokeWidth":1},
"encoding":{"x":{"field":"t","type":"quantitative","title":null},
"y":{"field":"l","type":"quantitative","title":null},
"y2":{"field":"h"},
"color":{"condition":{"test":"datum.c >= datum.o","value":"#ff0000"},"value":"#0000ff"}}},
{"data":{"name":"candles"},"mark":{"type":"bar","width":4},
"encoding":{"x":{"field":"t","type":"quantitative","title":null},
"y":{"field":"o","type":"quantitative","title":null},
"y2":{"field":"c"},
"color":{"condition":{"test":"datum.c >= datum.o","value":"#ff0000"},"value":"#0000ff"}}},
{"data":{"name":"hlines"},"mark":{"type":"rule","strokeWidth":2.2},
"encoding":{"y":{"field":"p","type":"quantitative","title":null},
"color":{"field":"ln","type":"nominal","scale":{"domain":["level","target"],"range":["#000000","#ff00ff"]},"legend":null}}},
{"data":{"name":"boxes"},"transform":[{"filter":"datum.zone != 'range'"}],"mark":{"type":"rect","fill":"transparent","strokeWidth":4.5},
"encoding":{"x":{"field":"t","type":"quantitative","title":null},"x2":{"field":"t2"},
"y":{"field":"p","type":"quantitative","title":null},"y2":{"field":"p2"},
"stroke":{"field":"zone","type":"nominal","scale":{"domain":["low","high"],"range":["#ff0000","#ff00ff"]},"legend":null}}},
{"data":{"name":"boxes"},"transform":[{"filter":"datum.zone == 'range'"}],"mark":{"type":"rect","fill":"transparent","stroke":"#000000","strokeWidth":3.4},
"encoding":{"x":{"field":"t","type":"quantitative","title":null},"x2":{"field":"t2"},
"y":{"field":"p","type":"quantitative","title":null},"y2":{"field":"p2"}}},
{"data":{"name":"segs"},"transform":[{"filter":"datum.pen == 'trend'"}],"mark":{"type":"rule","strokeWidth":3.4,"color":"#1414ff"},
"encoding":{"x":{"field":"t","type":"quantitative","title":null},"x2":{"field":"t2"},
"y":{"field":"p","type":"quantitative","title":null},"y2":{"field":"p2"}}},
{"data":{"name":"segs"},"transform":[{"filter":"datum.pen == 'channel'"}],"mark":{"type":"rule","strokeWidth":3.4,"color":"#7f107f"},
"encoding":{"x":{"field":"t","type":"quantitative","title":null},"x2":{"field":"t2"},
"y":{"field":"p","type":"quantitative","title":null},"y2":{"field":"p2"}}},
{"data":{"name":"segs"},"transform":[{"filter":"datum.pen == 'arrow'"}],"mark":{"type":"rule","strokeWidth":5,"color":"#000000","strokeCap":"round"},
"encoding":{"x":{"field":"t","type":"quantitative","title":null},"x2":{"field":"t2"},
"y":{"field":"p","type":"quantitative","title":null},"y2":{"field":"p2"}}},
{"data":{"name":"notes"},"transform":[{"filter":"datum.pos == 'a'"}],"mark":{"type":"text","align":"left","baseline":"alphabetic","dx":2,"dy":-3,"font":"Liberation Sans","fontSize":11.5},
"encoding":{"x":{"field":"t","type":"quantitative","title":null},
"y":{"field":"p","type":"quantitative","title":null},
"text":{"field":"label"},
"color":{"field":"zone","type":"nominal","scale":{"domain":["low","high","range"],"range":["#ff0000","#ff00ff","#000000"]},"legend":null}}},
{"data":{"name":"notes"},"transform":[{"filter":"datum.pos == 'b'"}],"mark":{"type":"text","align":"right","baseline":"top","dx":-1,"dy":3,"font":"Liberation Sans","fontSize":11.5},
"encoding":{"x":{"field":"t","type":"quantitative","title":null},
"y":{"field":"p","type":"quantitative","title":null},
"text":{"field":"label"},
"color":{"field":"zone","type":"nominal","scale":{"domain":["low","high","range"],"range":["#ff0000","#ff00ff","#000000"]},"legend":null}}},
{"data":{"name":"legend"},"mark":{"type":"text","align":"right","baseline":"middle","font":"Liberation Sans, Noto Sans CJK KR","fontSize":10.5},
"encoding":{"x":{"field":"t","type":"quantitative","title":null},
"y":{"field":"p","type":"quantitative","title":null},
"text":{"field":"label"},
"color":{"field":"s","type":"nominal","scale":{"domain":["tenkan","kijun","chikou","span1","span2"],"range":["#ff0000","#333333","#008000","#ff6600","#3c78ff"]},"legend":null}}},
{"data":{"name":"minor"},"mark":{"type":"rule","strokeWidth":1,"color":"#7a7a7a"},
"encoding":{"x":{"datum":307.8,"type":"quantitative","title":null},"x2":{"datum":308.55},
"y":{"field":"p","type":"quantitative","title":null}}},
{"data":{"name":"last"},"mark":{"type":"text","align":"left","baseline":"middle","font":"Noto Sans CJK KR","fontSize":12,"color":"#0000ff"},
"encoding":{"x":{"field":"t","type":"quantitative","title":null},
"y":{"field":"p","type":"quantitative","title":null},
"text":{"field":"label"}}},
{"data":{"name":"last"},"mark":{"type":"rule","strokeWidth":1.5,"color":"#0000ff"},
"encoding":{"x":{"field":"a1","type":"quantitative","title":null},"x2":{"field":"a2"},
"y":{"field":"p","type":"quantitative","title":null}}},
{"data":{"name":"last"},"mark":{"type":"point","shape":"triangle-right","filled":true,"size":45,"color":"#0000ff","opacity":1},
"encoding":{"x":{"field":"a2","type":"quantitative","title":null},
"y":{"field":"p","type":"quantitative","title":null}}},
{"data":{"name":"last"},"mark":{"type":"rect","color":"#0000ff"},
"encoding":{"x":{"field":"bx","type":"quantitative","title":null},"x2":{"field":"bx2"},
"y":{"field":"bp","type":"quantitative","title":null},"y2":{"field":"bp2"}}},
{"data":{"name":"last"},"mark":{"type":"text","align":"left","baseline":"middle","font":"Liberation Sans Narrow","fontSize":14,"color":"#ffffff"},
"encoding":{"x":{"field":"lx","type":"quantitative","title":null},
"y":{"field":"p","type":"quantitative","title":null},
"text":{"field":"tag"}}},
{"data":{"name":"last"},"mark":{"type":"text","align":"left","baseline":"middle","font":"Liberation Sans Narrow","fontSize":14,"color":"#0000ff"},
"encoding":{"x":{"field":"lx","type":"quantitative","title":null},
"y":{"field":"pp","type":"quantitative","title":null},
"text":{"field":"pct"}}}
]
}
